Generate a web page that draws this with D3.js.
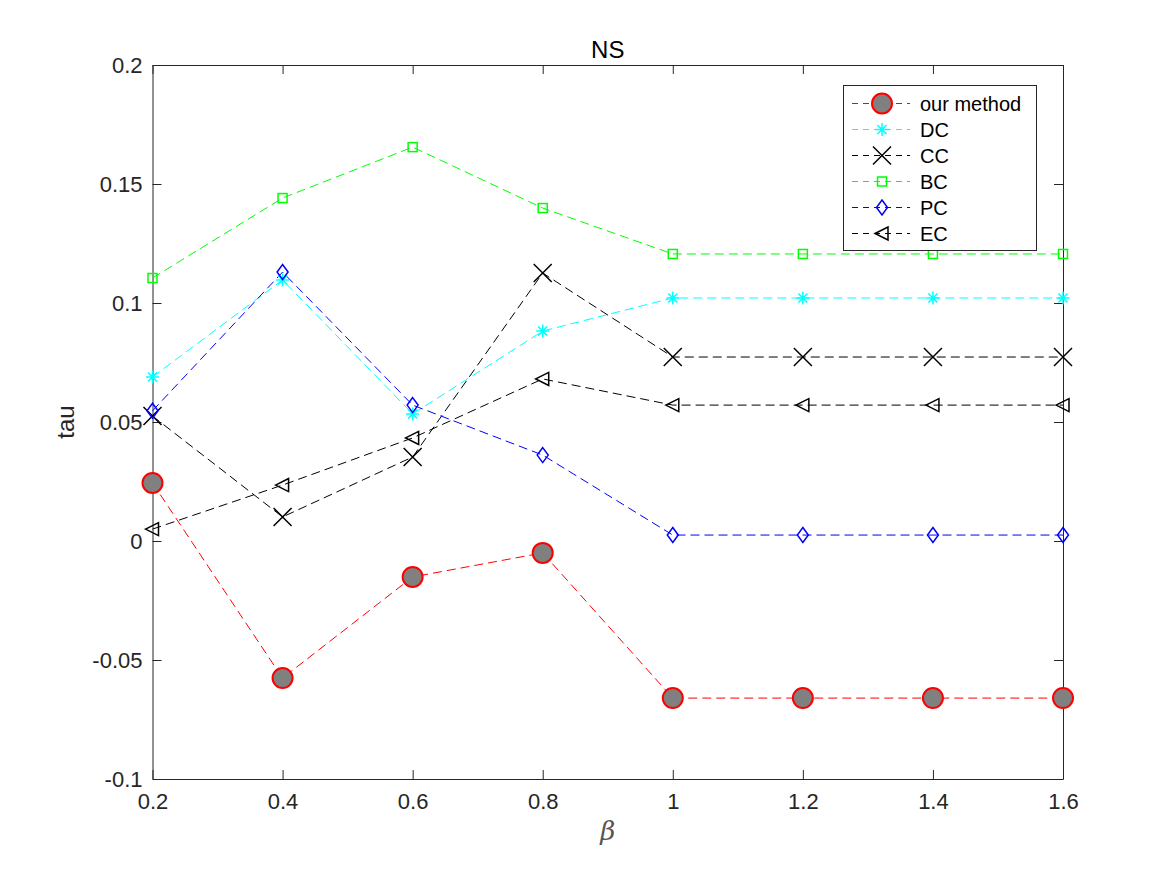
<!DOCTYPE html>
<html>
<head>
<meta charset="utf-8">
<script src="https://cdn.jsdelivr.net/npm/d3@7"></script>
<style>
  body { margin: 0; background: #fff; }
  svg { font-family: "Liberation Sans", Arial, Helvetica, sans-serif; }
</style>
</head>
<body>
<svg width="1167" height="875"></svg>
<script>
// data
const betas = [0.2, 0.4, 0.6, 0.8, 1.0, 1.2, 1.4, 1.6];
const ourMethod = [0.0244, -0.0576, -0.0151, -0.0050, -0.0660, -0.0660, -0.0660, -0.0660];
const dc = [0.0689, 0.1097, 0.0534, 0.0882, 0.1021, 0.1021, 0.1021, 0.1021];
const cc = [0.0525, 0.0101, 0.0353, 0.1126, 0.0773, 0.0773, 0.0773, 0.0773];
const bc = [0.1105, 0.1441, 0.1655, 0.1399, 0.1206, 0.1206, 0.1206, 0.1206];
const pc = [0.0547, 0.1130, 0.0571, 0.0361, 0.0025, 0.0025, 0.0025, 0.0025];
const ec = [0.0050, 0.0235, 0.0433, 0.0681, 0.0571, 0.0571, 0.0571, 0.0571];
const xTicks = [0.2, 0.4, 0.6, 0.8, 1, 1.2, 1.4, 1.6];
const yTicks = [-0.1, -0.05, 0, 0.05, 0.1, 0.15, 0.2];

const series = [
  { name: "our method", values: ourMethod, color: "#ff0000", marker: "circle" },
  { name: "DC", values: dc, color: "#00ffff", marker: "asterisk" },
  { name: "CC", values: cc, color: "#000000", marker: "cross" },
  { name: "BC", values: bc, color: "#00ff00", marker: "square" },
  { name: "PC", values: pc, color: "#0000ff", marker: "diamond" },
  { name: "EC", values: ec, color: "#000000", marker: "triangle" }
];

const svg = d3.select("svg");
const pLeft = 152.5, pRight = 1063, pTop = 65, pBottom = 779;
const axisColor = "#262626";

const x = d3.scaleLinear().domain([0.2, 1.6]).range([pLeft, pRight]);
const y = d3.scaleLinear().domain([-0.1, 0.2]).range([pBottom, pTop]);

// plain hyphen minus like matlab
const fmt = d => String(d);

// axes, ticks pointing inward, mirrored on top and right
const tickLen = 9;
const xAxisB = svg.append("g").attr("transform", "translate(0," + pBottom + ")")
  .call(d3.axisBottom(x).tickValues(xTicks).tickSizeInner(-tickLen).tickSizeOuter(0).tickPadding(10).tickFormat(fmt));
const xAxisT = svg.append("g").attr("transform", "translate(0," + pTop + ")")
  .call(d3.axisTop(x).tickValues(xTicks).tickSizeInner(-tickLen).tickSizeOuter(0).tickFormat(""));
const yAxisL = svg.append("g").attr("transform", "translate(" + pLeft + ",0)")
  .call(d3.axisLeft(y).tickValues(yTicks).tickSizeInner(-tickLen).tickSizeOuter(0).tickPadding(10).tickFormat(fmt));
const yAxisR = svg.append("g").attr("transform", "translate(" + pRight + ",0)")
  .call(d3.axisRight(y).tickValues(yTicks).tickSizeInner(-tickLen).tickSizeOuter(0).tickFormat(""));

[xAxisB, xAxisT, yAxisL, yAxisR].forEach(a => {
  a.attr("font-size", null).attr("font-family", null);
  a.selectAll("path").attr("stroke", axisColor).attr("stroke-width", 1);
  a.selectAll("line").attr("stroke", axisColor).attr("stroke-width", 1);
  a.selectAll("text").attr("fill", axisColor).attr("font-size", 22)
    .attr("font-family", "'Liberation Sans', Arial, sans-serif");
});
xAxisB.selectAll("text").attr("dy", "0.9em");

// title and labels
svg.append("text").attr("x", (pLeft + pRight) / 2).attr("y", 58).attr("text-anchor", "middle")
  .attr("fill", "#000").attr("font-size", 24).text("NS");
svg.append("text").attr("transform", "translate(74," + ((pTop + pBottom) / 2) + ") rotate(-90)")
  .attr("text-anchor", "middle").attr("fill", axisColor).attr("font-size", 24).text("tau");
svg.append("text").attr("x", (pLeft + pRight) / 2).attr("y", 840).attr("text-anchor", "middle")
  .attr("fill", "#555").attr("font-size", 26).attr("font-style", "italic")
  .attr("font-family", "'DejaVu Serif', 'Liberation Serif', serif").text("β");

// marker drawing
function drawMarker(g, type, color) {
  if (type === "circle") {
    g.append("circle").attr("r", 10).attr("fill", "#808080").attr("stroke", "#ff0000").attr("stroke-width", 2);
  } else if (type === "asterisk") {
    const r = 6.5;
    const p = "M" + (-r) + ",0L" + r + ",0M0," + (-r) + "L0," + r +
      "M" + (-r * 0.7) + "," + (-r * 0.7) + "L" + (r * 0.7) + "," + (r * 0.7) +
      "M" + (-r * 0.7) + "," + (r * 0.7) + "L" + (r * 0.7) + "," + (-r * 0.7);
    g.append("path").attr("d", p).attr("stroke", color).attr("stroke-width", 1.5).attr("fill", "none");
  } else if (type === "cross") {
    const r = 9;
    g.append("path").attr("d", "M" + (-r) + "," + (-r) + "L" + r + "," + r + "M" + (-r) + "," + r + "L" + r + "," + (-r))
      .attr("stroke", color).attr("stroke-width", 1.5).attr("fill", "none");
  } else if (type === "square") {
    g.append("rect").attr("x", -4.5).attr("y", -4.5).attr("width", 9).attr("height", 9)
      .attr("fill", "none").attr("stroke", color).attr("stroke-width", 1.5);
  } else if (type === "diamond") {
    g.append("path").attr("d", "M0,-7.5L5.5,0L0,7.5L-5.5,0Z")
      .attr("fill", "none").attr("stroke", color).attr("stroke-width", 1.5);
  } else if (type === "triangle") {
    g.append("path").attr("d", "M-7,0L6,-6.5L6,6.5Z")
      .attr("fill", "none").attr("stroke", color).attr("stroke-width", 1.5);
  }
}

const line = d3.line().x((d, i) => x(betas[i])).y(d => y(d));

series.forEach(s => {
  svg.append("path").datum(s.values).attr("d", line)
    .attr("fill", "none").attr("stroke", s.color).attr("stroke-width", 1)
    .attr("stroke-dasharray", "9,5");
});
series.forEach(s => {
  s.values.forEach((v, i) => {
    const g = svg.append("g").attr("transform", "translate(" + x(betas[i]) + "," + y(v) + ")");
    drawMarker(g, s.marker, s.color);
  });
});

// legend
const lg = svg.append("g");
lg.append("rect").attr("x", 843.5).attr("y", 85.5).attr("width", 193).attr("height", 165)
  .attr("fill", "#fff").attr("stroke", axisColor).attr("stroke-width", 1);
series.forEach((s, i) => {
  const yy = 103.5 + i * 26;
  lg.append("line").attr("x1", 852).attr("x2", 910).attr("y1", yy).attr("y2", yy)
    .attr("stroke", s.color).attr("stroke-width", 1).attr("stroke-dasharray", "6,5");
  drawMarker(lg.append("g").attr("transform", "translate(882," + yy + ")"), s.marker, s.color);
  lg.append("text").attr("x", 920).attr("y", yy).attr("dy", "0.35em")
    .attr("fill", "#000").attr("font-size", 20).text(s.name);
});
</script>
</body>
</html>
